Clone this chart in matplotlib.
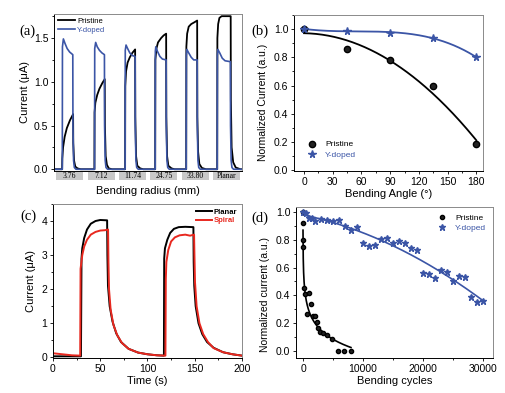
import numpy as np
import matplotlib
matplotlib.use('Agg')
import matplotlib.pyplot as plt
from matplotlib.patches import Rectangle
from matplotlib.ticker import MultipleLocator
import matplotlib.transforms as mtransforms

plt.rcParams['font.family'] = ['Liberation Sans', 'DejaVu Sans']
plt.rcParams['font.size'] = 7

BLUE = '#3b55a6'
RED = '#e8281f'

# ---- (a) photocurrent pulses per bending radius (x in segment units) ----
radius_labels = ['3.76', '7.12', '11.74', '24.75', '33.80', 'Planar']
pristine_x = [0, 0.26, 0.265, 0.29, 0.34, 0.41, 0.51, 0.61, 0.615, 0.64, 0.68, 0.75, 0.85,
              1.29, 1.295, 1.32, 1.38, 1.45, 1.55, 1.62, 1.625, 1.65, 1.69, 1.75, 1.85,
              2.27, 2.275, 2.30, 2.35, 2.42, 2.50, 2.59, 2.595, 2.62, 2.66, 2.75, 2.85,
              3.23, 3.235, 3.27, 3.32, 3.42, 3.50, 3.58, 3.585, 3.61, 3.65, 3.75, 3.85,
              4.22, 4.225, 4.25, 4.30, 4.38, 4.48, 4.57, 4.575, 4.60, 4.64, 4.72, 4.85,
              5.21, 5.215, 5.24, 5.28, 5.35, 5.50, 5.64, 5.645, 5.67, 5.72, 5.80, 5.95, 6.0]
pristine_y = [0, 0, 0.12, 0.25, 0.37, 0.47, 0.56, 0.63, 0.30, 0.10, 0.03, 0.01, 0,
              0, 0.65, 0.76, 0.85, 0.92, 0.99, 1.03, 0.50, 0.15, 0.05, 0.01, 0,
              0, 0.95, 1.12, 1.22, 1.28, 1.33, 1.37, 0.60, 0.15, 0.04, 0.01, 0,
              0, 1.25, 1.38, 1.45, 1.50, 1.53, 1.55, 0.60, 0.15, 0.04, 0.01, 0,
              0, 1.40, 1.55, 1.63, 1.66, 1.68, 1.70, 0.60, 0.20, 0.06, 0.015, 0,
              0, 1.50, 1.66, 1.73, 1.75, 1.75, 1.75, 0.80, 0.25, 0.08, 0.02, 0, 0]
ydoped_x = [0, 0.265, 0.27, 0.30, 0.35, 0.42, 0.50, 0.60, 0.605, 0.625, 0.65, 0.70,
            1.295, 1.30, 1.33, 1.38, 1.45, 1.53, 1.61, 1.615, 1.635, 1.66, 1.71,
            2.27, 2.275, 2.30, 2.35, 2.42, 2.50, 2.59, 2.595, 2.615, 2.64, 2.69,
            3.23, 3.235, 3.25, 3.30, 3.38, 3.46, 3.58, 3.585, 3.605, 3.63, 3.68,
            4.22, 4.225, 4.24, 4.30, 4.38, 4.46, 4.57, 4.575, 4.595, 4.62, 4.67,
            5.21, 5.215, 5.23, 5.29, 5.37, 5.46, 5.63, 5.635, 5.655, 5.68, 5.73, 6.0]
ydoped_y = [0, 0, 1.40, 1.49, 1.44, 1.38, 1.34, 1.31, 0.50, 0.10, 0.02, 0,
            0, 1.38, 1.45, 1.40, 1.36, 1.33, 1.31, 0.50, 0.10, 0.02, 0,
            0, 1.36, 1.42, 1.38, 1.33, 1.30, 1.29, 0.50, 0.10, 0.02, 0,
            0, 1.35, 1.40, 1.35, 1.29, 1.26, 1.25, 0.50, 0.10, 0.02, 0,
            0, 1.30, 1.37, 1.33, 1.28, 1.25, 1.25, 0.50, 0.10, 0.02, 0,
            0, 1.30, 1.37, 1.33, 1.27, 1.24, 1.23, 0.50, 0.10, 0.02, 0, 0]

# ---- (b) normalized current vs bending angle ----
angle = [0, 45, 90, 135, 180]
angle_pristine = [1.0, 0.86, 0.78, 0.595, 0.185]
angle_ydoped = [1.0, 0.99, 0.97, 0.94, 0.80]

# ---- (c) planar vs spiral time response ----
planar_t = [0, 29, 29.6, 30.2, 31, 33, 36, 40, 45, 50, 57.3, 57.6, 58.2, 60, 63, 67, 72, 80, 90, 100, 110,
            117.4, 117.7, 118.5, 121, 124, 128, 133, 140, 148.6, 148.9, 149.5, 151, 154, 158, 163, 170, 180, 190, 200]
planar_i = [0.03, 0.03, 0.03, 2.9, 3.2, 3.5, 3.75, 3.92, 4.0, 4.03, 4.02, 3.0, 2.1, 1.5, 1.05, 0.7, 0.45, 0.25, 0.14, 0.09, 0.06,
            0.05, 2.9, 3.2, 3.45, 3.65, 3.77, 3.82, 3.83, 3.82, 2.8, 2.1, 1.5, 1.0, 0.68, 0.45, 0.28, 0.15, 0.09, 0.05]
spiral_t = [0, 10, 20, 28.8, 29.2, 31, 33, 36, 40, 45, 50, 55, 58.3, 58.7, 59.3, 61, 64, 68, 73, 80, 90, 100, 110,
            119.0, 119.4, 120, 122, 125, 129, 134, 140, 145, 149.3, 149.7, 150.3, 152, 155, 159, 164, 170, 180, 190, 200]
spiral_i = [0.12, 0.09, 0.06, 0.05, 2.6, 3.0, 3.25, 3.45, 3.6, 3.68, 3.72, 3.73, 3.75, 2.8, 2.0, 1.4, 0.95, 0.65, 0.42, 0.25, 0.14, 0.09, 0.06,
            0.05, 2.3, 2.8, 3.15, 3.4, 3.52, 3.58, 3.6, 3.57, 3.6, 3.0, 2.2, 1.5, 1.0, 0.68, 0.45, 0.27, 0.15, 0.09, 0.05]

# ---- (d) normalized current vs bending cycles ----
cyc_pristine = [0, 0, 0, 0, 170, 300, 720, 1050, 1280, 1610, 2000, 2280, 2560, 2830, 3390, 3940, 4780, 5890, 6890, 7940]
val_pristine = [1.0, 0.917, 0.80, 0.745, 0.455, 0.41, 0.263, 0.414, 0.337, 0.25, 0.255, 0.206, 0.163, 0.139, 0.127, 0.115, 0.086, 0.002, 0.002, 0.0]
cyc_ydoped = [0, 500, 1000, 1500, 2000, 3000, 4000, 5000, 6000, 7000, 8000, 9000,
              10000, 11000, 12000, 13000, 14000, 15000, 16000, 17000, 18000, 19000, 20000,
              21000, 22000, 23000, 24000, 25000, 26000, 27000, 28000, 29000, 30000]
val_ydoped = [1.0, 0.993, 0.957, 0.957, 0.933, 0.952, 0.945, 0.933, 0.940, 0.900, 0.869, 0.888,
              0.778, 0.756, 0.761, 0.804, 0.813, 0.773, 0.790, 0.773, 0.742, 0.725, 0.562,
              0.557, 0.526, 0.581, 0.569, 0.502, 0.540, 0.533, 0.385, 0.349, 0.358]


def style(ax):
    ax.tick_params(which='both', direction='out', length=2.5, width=0.6, pad=1.5, labelsize=7.5)
    ax.tick_params(which='minor', length=1.5)
    for s in ['top', 'right']:
        ax.spines[s].set_color('#8a8a8a')
    for s in ax.spines.values():
        s.set_linewidth(0.7)
    ax.tick_params(top=False, right=False, which='both')


fig = plt.figure(figsize=(5.06, 3.93), dpi=100)

# (a)
ax = fig.add_axes([0.1067, 0.5649, 0.3715, 0.3995])
ax.plot(pristine_x, pristine_y, color='black', lw=1.3, label='Pristine')
ax.plot(ydoped_x, ydoped_y, color=BLUE, lw=1.2, label='Y-doped')
ax.set_xlim(0, 6)
ax.set_ylim(-0.02, 1.775)
ax.set_xticks([])
ax.yaxis.set_major_locator(MultipleLocator(0.5))
ax.yaxis.set_minor_locator(MultipleLocator(0.25))
ax.yaxis.set_major_formatter(matplotlib.ticker.FormatStrFormatter('%.1f'))
style(ax)
ax.set_ylabel('Current (\u03bcA)', fontsize=8, labelpad=3)
ax.set_xlabel('Bending radius (mm)', fontsize=8, labelpad=11)
trans = mtransforms.blended_transform_factory(ax.transData, ax.transAxes)
for i, lab in enumerate(radius_labels):
    ax.add_patch(Rectangle((i + 0.07, -0.058), 0.87, 0.05, transform=trans,
                           facecolor='#c8c8c8', edgecolor='none', clip_on=False))
    ax.text(i + 0.505, -0.034, lab, transform=trans, ha='center', va='center',
            fontsize=5.5, family='Liberation Serif')
leg = ax.legend(loc='upper left', fontsize=5.5, frameon=False, handlelength=2.2,
                borderaxespad=0.1, labelspacing=0.2, handletextpad=0.3)
leg.get_texts()[1].set_color(BLUE)
ax.text(-0.185, 0.87, '(a)', transform=ax.transAxes, fontsize=10.5, family='Liberation Serif')

# (b)
ax = fig.add_axes([0.581, 0.5649, 0.3735, 0.397])
xs = np.linspace(0, 180, 200)
pb = np.polyfit(angle, angle_pristine, 2)
yb = np.polyfit(angle, angle_ydoped, 3)
ax.plot(xs, np.polyval(pb, xs), color='black', lw=1.3)
ax.plot(xs, np.polyval(yb, xs), color=BLUE, lw=1.3)
ax.plot(angle, angle_pristine, 'o', color='#222222', mec='black', ms=4.5, label='Pristine')
ax.plot(angle, angle_ydoped, '*', color=BLUE, ms=5.5, label='Y-doped')
ax.set_xlim(-10.5, 187)
ax.set_ylim(-0.005, 1.1)
ax.xaxis.set_major_locator(MultipleLocator(30))
ax.xaxis.set_minor_locator(MultipleLocator(15))
ax.yaxis.set_major_locator(MultipleLocator(0.2))
ax.yaxis.set_minor_locator(MultipleLocator(0.1))
ax.yaxis.set_major_formatter(matplotlib.ticker.FormatStrFormatter('%.1f'))
style(ax)
ax.set_ylabel('Normalized Current (a.u.)', fontsize=7.5, labelpad=3)
ax.yaxis.set_label_coords(-0.135, 0.44)
ax.set_xlabel('Bending Angle (\u00b0)', fontsize=8, labelpad=2)
leg = ax.legend(loc='lower left', fontsize=6, frameon=False, bbox_to_anchor=(0.01, 0.03),
                handletextpad=0.6, labelspacing=0.3)
leg.get_texts()[1].set_color(BLUE)
ax.text(-0.225, 0.87, '(b)', transform=ax.transAxes, fontsize=10.5, family='Liberation Serif')

# (c)
ax = fig.add_axes([0.1047, 0.089, 0.3735, 0.392])
ax.plot(planar_t, planar_i, color='black', lw=1.4, label='Planar')
ax.plot(spiral_t, spiral_i, color=RED, lw=1.4, label='Spiral')
ax.set_xlim(0, 200)
ax.set_ylim(-0.02, 4.5)
ax.xaxis.set_major_locator(MultipleLocator(50))
ax.xaxis.set_minor_locator(MultipleLocator(25))
ax.yaxis.set_major_locator(MultipleLocator(1))
ax.yaxis.set_minor_locator(MultipleLocator(0.5))
style(ax)
ax.set_ylabel('Current (\u03bcA)', fontsize=8, labelpad=4)
ax.set_xlabel('Time (s)', fontsize=8, labelpad=2)
leg = ax.legend(loc='upper right', fontsize=5.5, frameon=False, handlelength=2.0,
                borderaxespad=0.2, labelspacing=0.15, handletextpad=0.3,
                prop={'weight': 'bold', 'size': 5.5})
leg.get_texts()[1].set_color(RED)
ax.text(-0.17, 0.9, '(c)', transform=ax.transAxes, fontsize=10.5, family='Liberation Serif')

# (d)
ax = fig.add_axes([0.585, 0.089, 0.389, 0.384])
xp = np.linspace(0, 8000, 400)
lp = np.polyfit(np.log(np.array(cyc_pristine) + 10.0), val_pristine, 1)
ax.plot(xp, np.polyval(lp, np.log(xp + 10.0)), color='black', lw=1.2)
xy = np.linspace(0, 30000, 200)
qy = np.polyfit(cyc_ydoped, val_ydoped, 2)
ax.plot(xy, np.polyval(qy, xy), color=BLUE, lw=1.2)
ax.plot(cyc_pristine, val_pristine, 'o', color='#222222', mec='black', ms=3.0, label='Pristine')
ax.plot(cyc_ydoped, val_ydoped, '*', color=BLUE, ms=4.5, ls='none', label='Y-doped')
ax.set_xlim(-1167, 31667)
ax.set_ylim(-0.05, 1.034)
ax.xaxis.set_major_locator(MultipleLocator(10000))
ax.xaxis.set_minor_locator(MultipleLocator(5000))
ax.yaxis.set_major_locator(MultipleLocator(0.2))
ax.yaxis.set_minor_locator(MultipleLocator(0.1))
ax.yaxis.set_major_formatter(matplotlib.ticker.FormatStrFormatter('%.1f'))
style(ax)
ax.set_ylabel('Normalized current (a.u.)', fontsize=7.5, labelpad=3)
ax.yaxis.set_label_coords(-0.13, 0.42)
ax.set_xlabel('Bending cycles', fontsize=8, labelpad=2)
leg = ax.legend(loc='upper right', fontsize=6, frameon=False, borderaxespad=0.4,
                handletextpad=0.6, labelspacing=0.3)
leg.get_texts()[1].set_color(BLUE)
ax.text(-0.225, 0.9, '(d)', transform=ax.transAxes, fontsize=10.5, family='Liberation Serif')

fig.savefig('out.png', dpi=100)
plt.close(fig)
